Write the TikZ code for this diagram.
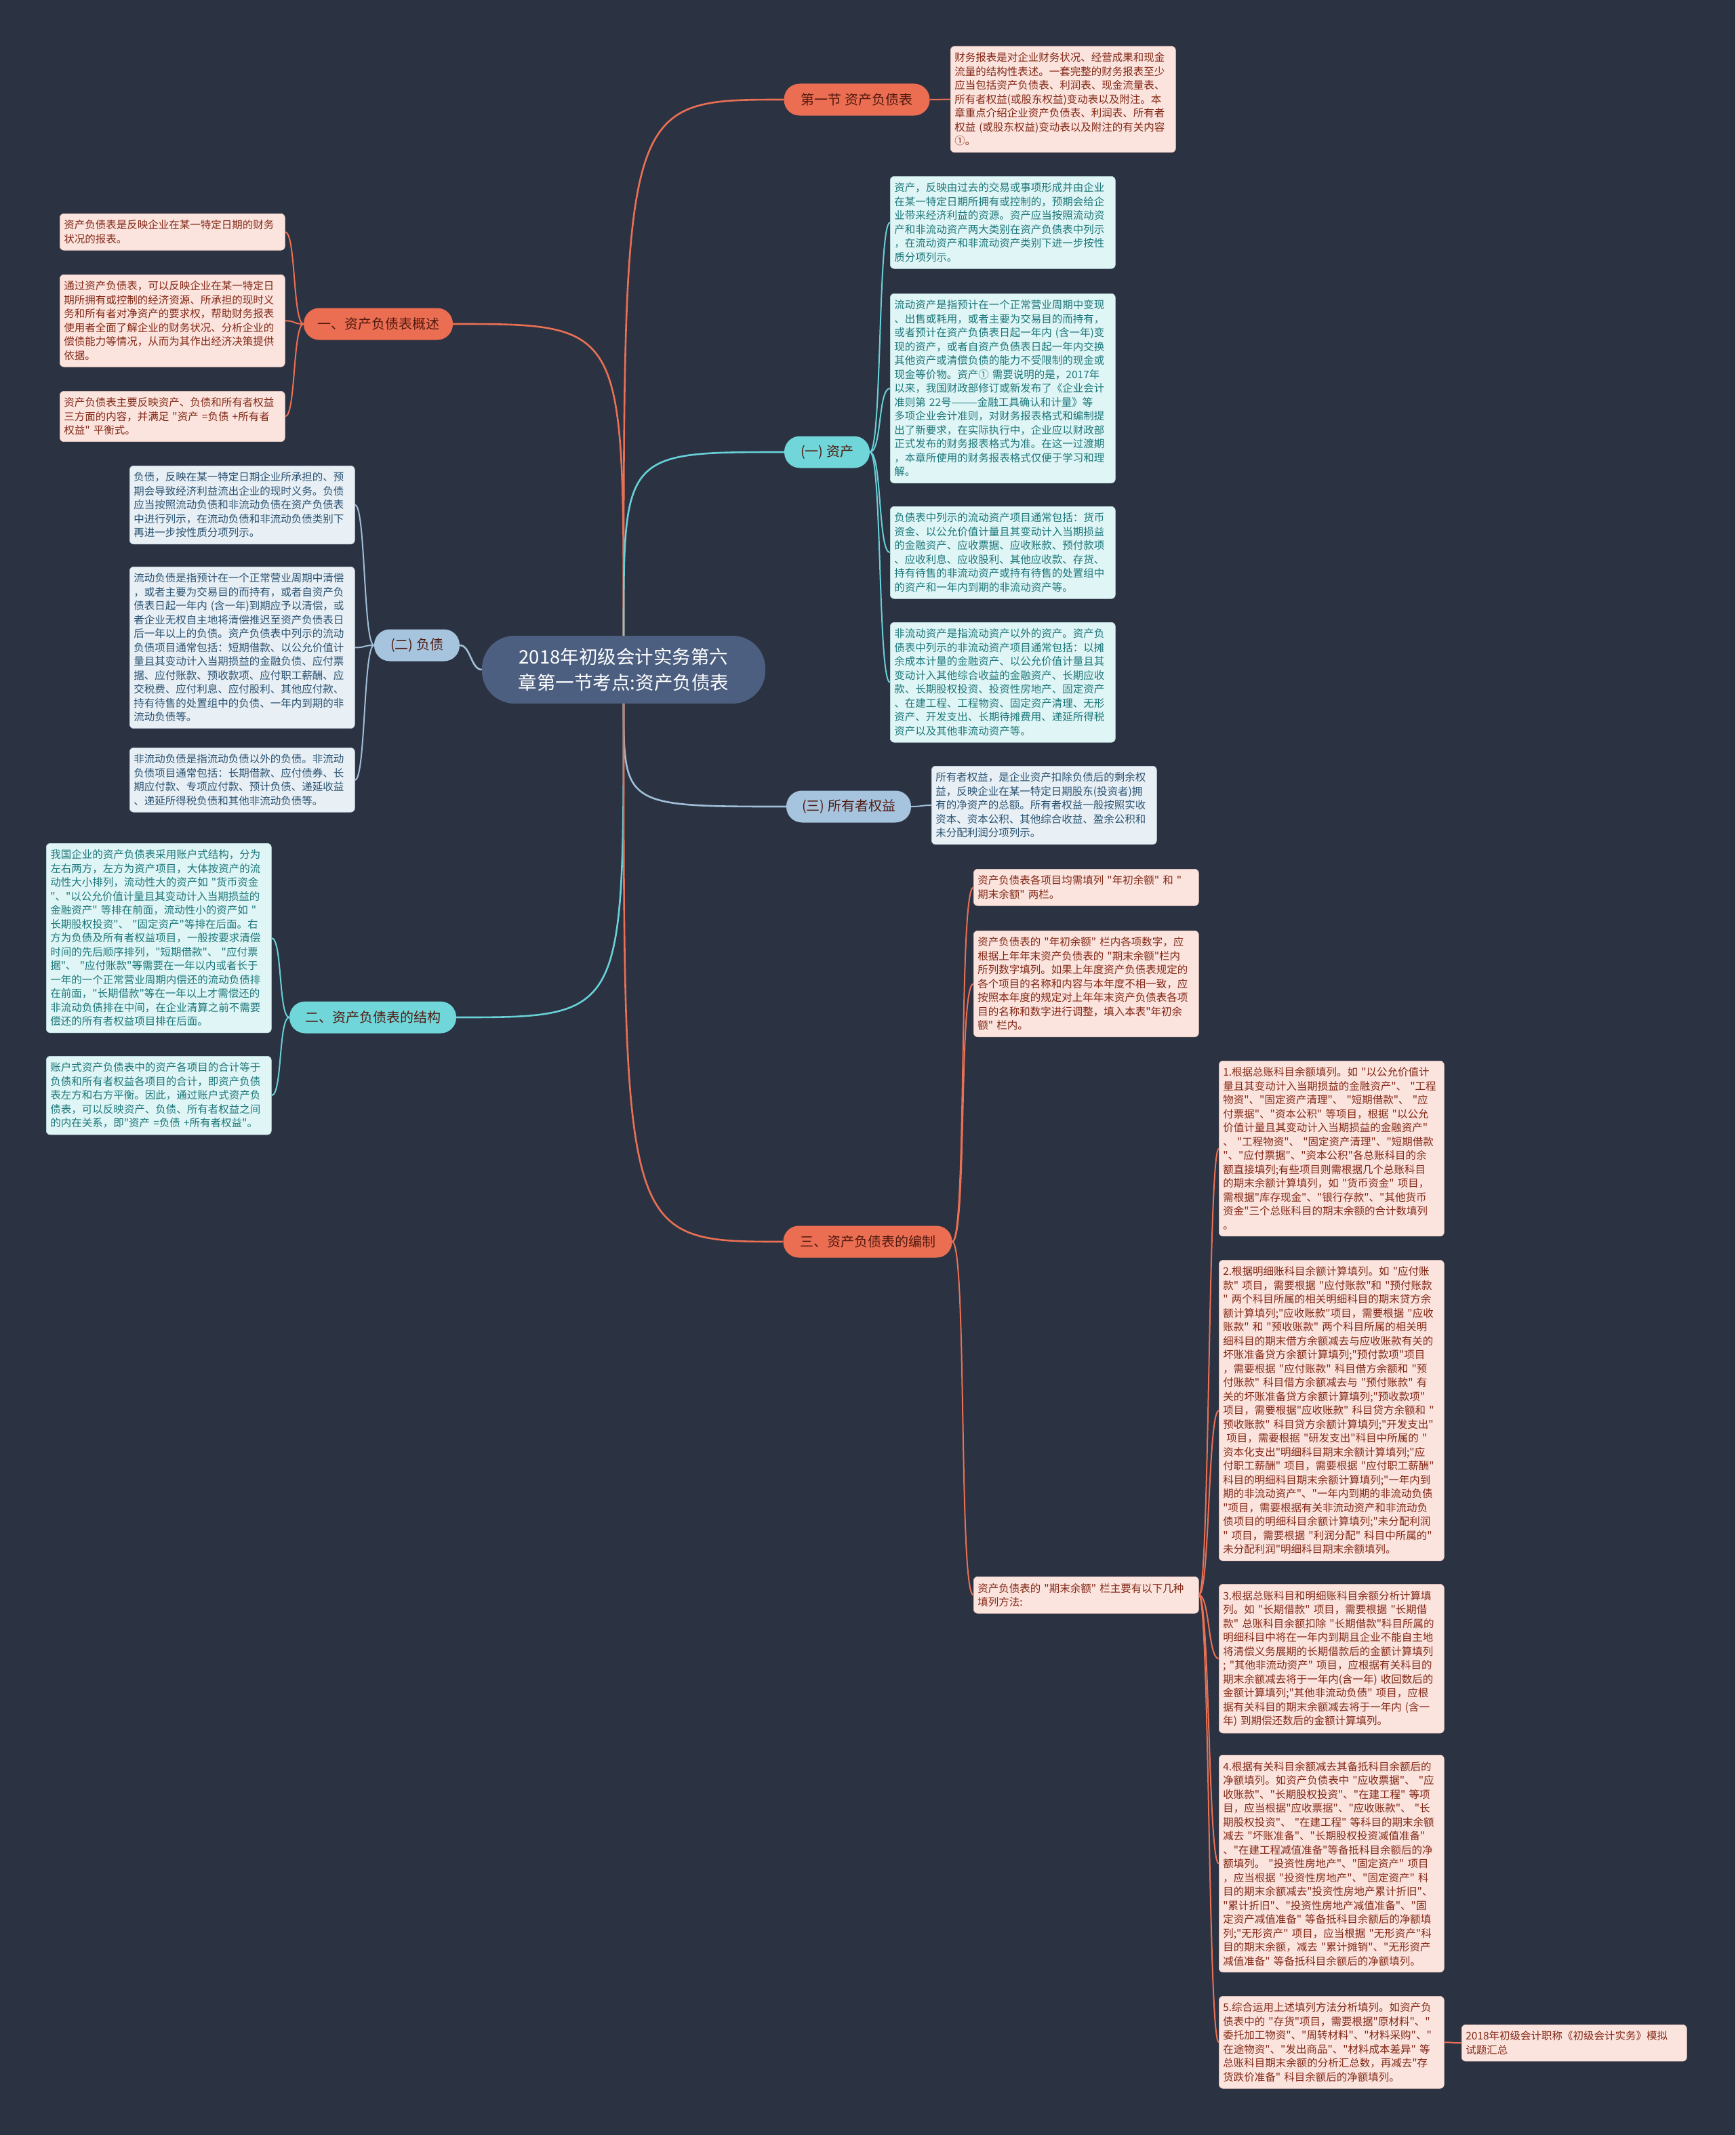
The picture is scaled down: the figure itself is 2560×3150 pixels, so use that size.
\documentclass[tikz,border=0pt]{standalone}
\usepackage{fontspec}
\newfontfamily\cjk{Noto Sans CJK SC}
\definecolor{bg}{RGB}{43,50,66}
\definecolor{centerfill}{RGB}{76,95,128}
\definecolor{orgfill}{RGB}{236,110,82}
\definecolor{orgline}{RGB}{234,112,84}
\definecolor{orgleaf}{RGB}{252,228,222}
\definecolor{orgtext}{RGB}{130,40,22}
\definecolor{cyfill}{RGB}{112,214,218}
\definecolor{cyline}{RGB}{104,208,214}
\definecolor{cyleaf}{RGB}{224,246,246}
\definecolor{cytext}{RGB}{28,118,122}
\definecolor{blfill}{RGB}{166,196,222}
\definecolor{blline}{RGB}{160,190,216}
\definecolor{blleaf}{RGB}{232,240,246}
\definecolor{bltext}{RGB}{42,82,112}
\definecolor{brtext}{RGB}{80,25,15}
\begin{document}
\begin{tikzpicture}[x=1pt,y=-1pt,
  leaf/.style={anchor=north west, text width=320pt, align=left, inner xsep=6pt, inner ysep=9.5pt, rounded corners=6pt, font=\cjk\fontsize{15.5}{20.5}\selectfont},
  leafO/.style={leaf, fill=orgleaf, draw=orgleaf!85!orgtext, line width=0.6pt, text=orgtext},
  leafC/.style={leaf, fill=cyleaf, draw=cyleaf!85!cytext, line width=0.6pt, text=cytext},
  leafB/.style={leaf, fill=blleaf, draw=blleaf!85!bltext, line width=0.6pt, text=bltext},
  branch/.style={rounded corners=23pt, minimum height=47pt, inner xsep=0pt, text=brtext, font=\cjk\fontsize{20}{24}\selectfont},
  brO/.style={branch, fill=orgfill},
  brC/.style={branch, fill=cyfill},
  brB/.style={branch, fill=blfill},
  hub/.style={rounded corners=48pt, fill=centerfill, text=white, align=center, minimum width=418pt, minimum height=100pt, font=\cjk\fontsize{27.5}{38}\selectfont},
  main/.style={line width=2.6pt},
  sub/.style={line width=2pt}
]
\fill[bg] (0,0) rectangle (2560,3150);
\useasboundingbox (0,0) rectangle (2560,3150);

% central
\node[hub] (c) at (920,988) {2018年初级会计实务第六\\章第一节考点:资产负债表};

% branches
\node[brO, minimum width=215pt] (b1) at (1264,147) {第一节 资产负债表};
\node[brO, minimum width=220pt] (bA) at (558,478) {一、资产负债表概述};
\node[brC, minimum width=126pt] (bZ) at (1220,667) {(一) 资产};
\node[brB, minimum width=126pt] (bF) at (615,952) {(二) 负债};
\node[brB, minimum width=184pt] (bQ) at (1252,1190) {(三) 所有者权益};
\node[brC, minimum width=246pt] (bJ) at (550,1501) {二、资产负债表的结构};
\node[brO, minimum width=249pt] (bB) at (1280,1832) {三、资产负债表的编制};

% leaves
\node[leafO] (tr) at (1402,68) {财务报表是对企业财务状况、经营成果和现金\\流量的结构性表述。一套完整的财务报表至少\\应当包括资产负债表、利润表、现金流量表、\\所有者权益(或股东权益)变动表以及附注。本\\章重点介绍企业资产负债表、利润表、所有者\\权益 (或股东权益)变动表以及附注的有关内容\\①。};

\node[leafO] (oA) at (88,315) {资产负债表是反映企业在某一特定日期的财务\\状况的报表。};
\node[leafO] (oB) at (88,405) {通过资产负债表，可以反映企业在某一特定日\\期所拥有或控制的经济资源、所承担的现时义\\务和所有者对净资产的要求权，帮助财务报表\\使用者全面了解企业的财务状况、分析企业的\\偿债能力等情况，从而为其作出经济决策提供\\依据。};
\node[leafO] (oC) at (88,577) {资产负债表主要反映资产、负债和所有者权益\\三方面的内容，并满足 "资产 =负债 +所有者\\权益" 平衡式。};

\node[leafC] (a1) at (1313,260) {资产，反映由过去的交易或事项形成并由企业\\在某一特定日期所拥有或控制的，预期会给企\\业带来经济利益的资源。资产应当按照流动资\\产和非流动资产两大类别在资产负债表中列示\\，在流动资产和非流动资产类别下进一步按性\\质分项列示。};
\node[leafC] (a2) at (1313,433) {流动资产是指预计在一个正常营业周期中变现\\、出售或耗用，或者主要为交易目的而持有，\\或者预计在资产负债表日起一年内 (含一年)变\\现的资产，或者自资产负债表日起一年内交换\\其他资产或清偿负债的能力不受限制的现金或\\现金等价物。资产① 需要说明的是，2017年\\以来，我国财政部修订或新发布了《企业会计\\准则第 22号———金融工具确认和计量》等\\多项企业会计准则，对财务报表格式和编制提\\出了新要求，在实际执行中，企业应以财政部\\正式发布的财务报表格式为准。在这一过渡期\\，本章所使用的财务报表格式仅便于学习和理\\解。};
\node[leafC] (a3) at (1313,747) {负债表中列示的流动资产项目通常包括：货币\\资金、以公允价值计量且其变动计入当期损益\\的金融资产、应收票据、应收账款、预付款项\\、应收利息、应收股利、其他应收款、存货、\\持有待售的非流动资产或持有待售的处置组中\\的资产和一年内到期的非流动资产等。};
\node[leafC] (a4) at (1313,918) {非流动资产是指流动资产以外的资产。资产负\\债表中列示的非流动资产项目通常包括：以摊\\余成本计量的金融资产、以公允价值计量且其\\变动计入其他综合收益的金融资产、长期应收\\款、长期股权投资、投资性房地产、固定资产\\、在建工程、工程物资、固定资产清理、无形\\资产、开发支出、长期待摊费用、递延所得税\\资产以及其他非流动资产等。};

\node[leafB] (f1) at (191,687) {负债，反映在某一特定日期企业所承担的、预\\期会导致经济利益流出企业的现时义务。负债\\应当按照流动负债和非流动负债在资产负债表\\中进行列示，在流动负债和非流动负债类别下\\再进一步按性质分项列示。};
\node[leafB] (f2) at (191,836) {流动负债是指预计在一个正常营业周期中清偿\\，或者主要为交易目的而持有，或者自资产负\\债表日起一年内 (含一年)到期应予以清偿，或\\者企业无权自主地将清偿推迟至资产负债表日\\后一年以上的负债。资产负债表中列示的流动\\负债项目通常包括：短期借款、以公允价值计\\量且其变动计入当期损益的金融负债、应付票\\据、应付账款、预收款项、应付职工薪酬、应\\交税费、应付利息、应付股利、其他应付款、\\持有待售的处置组中的负债、一年内到期的非\\流动负债等。};
\node[leafB] (f3) at (191,1103) {非流动负债是指流动负债以外的负债。非流动\\负债项目通常包括：长期借款、应付债券、长\\期应付款、专项应付款、预计负债、递延收益\\、递延所得税负债和其他非流动负债等。};

\node[leafC] (s1) at (68,1244) {我国企业的资产负债表采用账户式结构，分为\\左右两方，左方为资产项目，大体按资产的流\\动性大小排列，流动性大的资产如 "货币资金\\"、"以公允价值计量且其变动计入当期损益的\\金融资产" 等排在前面，流动性小的资产如 "\\长期股权投资"、 "固定资产"等排在后面。右\\方为负债及所有者权益项目，一般按要求清偿\\时间的先后顺序排列，"短期借款"、 "应付票\\据"、 "应付账款"等需要在一年以内或者长于\\一年的一个正常营业周期内偿还的流动负债排\\在前面，"长期借款"等在一年以上才需偿还的\\非流动负债排在中间，在企业清算之前不需要\\偿还的所有者权益项目排在后面。};
\node[leafC] (s2) at (68,1558) {账户式资产负债表中的资产各项目的合计等于\\负债和所有者权益各项目的合计，即资产负债\\表左方和右方平衡。因此，通过账户式资产负\\债表，可以反映资产、负债、所有者权益之间\\的内在关系，即"资产 =负债 +所有者权益"。};

\node[leafB] (q1) at (1374,1130) {所有者权益，是企业资产扣除负债后的剩余权\\益，反映企业在某一特定日期股东(投资者)拥\\有的净资产的总额。所有者权益一般按照实收\\资本、资本公积、其他综合收益、盈余公积和\\未分配利润分项列示。};

\node[leafO] (k1) at (1436,1282) {资产负债表各项目均需填列 "年初余额" 和 "\\期末余额" 两栏。};
\node[leafO] (k2) at (1436,1373) {资产负债表的 "年初余额" 栏内各项数字，应\\根据上年年末资产负债表的 "期末余额"栏内\\所列数字填列。如果上年度资产负债表规定的\\各个项目的名称和内容与本年度不相一致，应\\按照本年度的规定对上年年末资产负债表各项\\目的名称和数字进行调整，填入本表"年初余\\额" 栏内。};
\node[leafO] (k3) at (1436,2326) {资产负债表的 "期末余额" 栏主要有以下几种\\填列方法:};

\node[leafO] (d1) at (1798,1565) {1.根据总账科目余额填列。如 "以公允价值计\\量且其变动计入当期损益的金融资产"、 "工程\\物资"、"固定资产清理"、 "短期借款"、 "应\\付票据"、"资本公积" 等项目，根据 "以公允\\价值计量且其变动计入当期损益的金融资产"\\、 "工程物资"、 "固定资产清理"、"短期借款\\"、"应付票据"、"资本公积"各总账科目的余\\额直接填列;有些项目则需根据几个总账科目\\的期末余额计算填列，如 "货币资金" 项目，\\需根据"库存现金"、"银行存款"、"其他货币\\资金"三个总账科目的期末余额的合计数填列\\。};
\node[leafO] (d2) at (1798,1859) {2.根据明细账科目余额计算填列。如 "应付账\\款" 项目，需要根据 "应付账款"和 "预付账款\\" 两个科目所属的相关明细科目的期末贷方余\\额计算填列;"应收账款"项目，需要根据 "应收\\账款" 和 "预收账款" 两个科目所属的相关明\\细科目的期末借方余额减去与应收账款有关的\\坏账准备贷方余额计算填列;"预付款项"项目\\，需要根据 "应付账款" 科目借方余额和 "预\\付账款" 科目借方余额减去与 "预付账款" 有\\关的坏账准备贷方余额计算填列;"预收款项"\\项目，需要根据"应收账款" 科目贷方余额和 "\\预收账款" 科目贷方余额计算填列;"开发支出"\\~项目，需要根据 "研发支出"科目中所属的 "\\资本化支出"明细科目期末余额计算填列;"应\\付职工薪酬" 项目，需要根据 "应付职工薪酬"\\科目的明细科目期末余额计算填列;"一年内到\\期的非流动资产"、"一年内到期的非流动负债\\"项目，需要根据有关非流动资产和非流动负\\债项目的明细科目余额计算填列;"未分配利润\\" 项目，需要根据 "利润分配" 科目中所属的"\\未分配利润"明细科目期末余额填列。};
\node[leafO] (d3) at (1798,2337) {3.根据总账科目和明细账科目余额分析计算填\\列。如 "长期借款" 项目，需要根据 "长期借\\款" 总账科目余额扣除 "长期借款"科目所属的\\明细科目中将在一年内到期且企业不能自主地\\将清偿义务展期的长期借款后的金额计算填列\\; "其他非流动资产" 项目，应根据有关科目的\\期末余额减去将于一年内(含一年) 收回数后的\\金额计算填列;"其他非流动负债" 项目，应根\\据有关科目的期末余额减去将于一年内 (含一\\年) 到期偿还数后的金额计算填列。};
\node[leafO] (d4) at (1798,2589) {4.根据有关科目余额减去其备抵科目余额后的\\净额填列。如资产负债表中 "应收票据"、 "应\\收账款"、"长期股权投资"、"在建工程" 等项\\目，应当根据"应收票据"、"应收账款"、 "长\\期股权投资"、 "在建工程" 等科目的期末余额\\减去 "坏账准备"、"长期股权投资减值准备"\\、"在建工程减值准备"等备抵科目余额后的净\\额填列。 "投资性房地产"、"固定资产" 项目\\，应当根据 "投资性房地产"、"固定资产" 科\\目的期末余额减去"投资性房地产累计折旧"、\\"累计折旧"、"投资性房地产减值准备"、"固\\定资产减值准备" 等备抵科目余额后的净额填\\列;"无形资产" 项目，应当根据 "无形资产"科\\目的期末余额，减去 "累计摊销"、"无形资产\\减值准备" 等备抵科目余额后的净额填列。};
\node[leafO] (d5) at (1798,2945) {5.综合运用上述填列方法分析填列。如资产负\\债表中的 "存货"项目，需要根据"原材料"、"\\委托加工物资"、"周转材料"、"材料采购"、"\\在途物资"、"发出商品"、"材料成本差异" 等\\总账科目期末余额的分析汇总数，再减去"存\\货跌价准备" 科目余额后的净额填列。};
\node[leafO] (fin) at (2156,2987) {2018年初级会计职称《初级会计实务》模拟\\试题汇总};

% central to branches
\draw[main, orgline] (c.north) .. controls (c.north |- b1.west) .. (b1.west);
\draw[main, orgline] (c.north) .. controls (c.north |- bA.east) .. (bA.east);
\draw[main, cyline] (c.north) .. controls (c.north |- bZ.west) .. (bZ.west);
\draw[main, blline] (c.west) .. controls +(-16,0) and +(16,0) .. (bF.east);
\draw[main, blline] (c.south) .. controls (c.south |- bQ.west) .. (bQ.west);
\draw[main, cyline] (c.south) .. controls (c.south |- bJ.east) .. (bJ.east);
\draw[main, orgline] (c.south) .. controls (c.south |- bB.west) .. (bB.west);

% branches to leaves
\draw[sub, orgline] (b1.east) .. controls +(16,0) and +(-16,0) .. (tr.west);
\foreach \l in {oA,oB,oC} \draw[sub, orgline] (bA.west) .. controls +(-16,0) and +(16,0) .. (\l.east);
\foreach \l in {a1,a2,a3,a4} \draw[sub, cyline] (bZ.east) .. controls +(18,0) and +(-18,0) .. (\l.west);
\foreach \l in {f1,f2,f3} \draw[sub, blline] (bF.west) .. controls +(-16,0) and +(16,0) .. (\l.east);
\draw[sub, blline] (bQ.east) .. controls +(16,0) and +(-16,0) .. (q1.west);
\foreach \l in {s1,s2} \draw[sub, cyline] (bJ.west) .. controls +(-16,0) and +(16,0) .. (\l.east);
\foreach \l in {k1,k2,k3} \draw[sub, orgline] (bB.east) .. controls +(22,0) and +(-22,0) .. (\l.west);
\foreach \l in {d1,d2,d3,d4,d5} \draw[sub, orgline] (k3.east) .. controls +(16,0) and +(-16,0) .. (\l.west);
\draw[sub, orgline] (d5.east) .. controls +(14,0) and +(-14,0) .. (fin.west);
\end{tikzpicture}
\end{document}
